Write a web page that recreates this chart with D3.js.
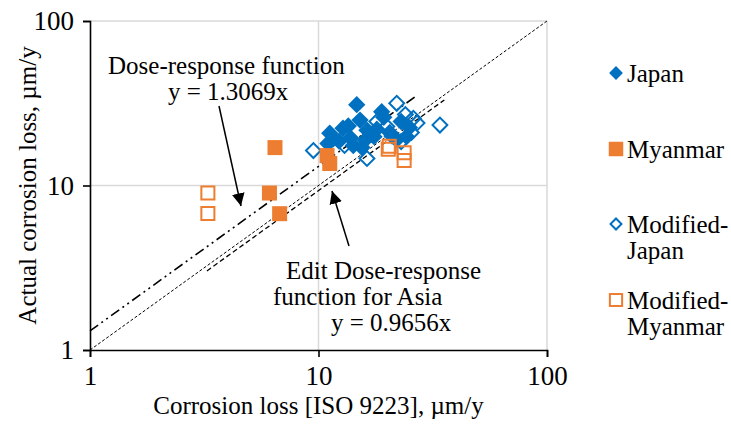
<!DOCTYPE html>
<html>
<head>
<meta charset="utf-8">
<script src="https://cdn.jsdelivr.net/npm/d3@7"></script>
<style>
  body { margin: 0; background: #fff; }
  svg text { font-family: "Liberation Serif", "Times New Roman", Times, "DejaVu Serif", serif !important; fill: #000; }
</style>
</head>
<body>
<div id="chart"></div>
<script>
// data (x = ISO 9223 loss, y = actual loss, um/y)
var japan = [
  [14.7, 31.0], [18.9, 28.1], [19.3, 26.0], [15.2, 25.0], [12.8, 22.3],
  [13.5, 23.0], [11.2, 20.8], [11.6, 19.2], [12.3, 18.6], [13.8, 19.5],
  [14.2, 17.5], [15.5, 17.0], [16.3, 21.7], [16.0, 18.9], [17.5, 19.8],
  [18.0, 22.0], [20.5, 21.0], [23.0, 24.5], [24.3, 19.8], [25.0, 22.5],
  [22.0, 19.0], [11.0, 18.0]
];
var myanmar = [
  [6.45, 17.0], [6.1, 9.0], [6.76, 6.74], [10.9, 15.2], [11.2, 13.6]
];
var modJapan = [
  [9.5, 16.3], [16.3, 14.6], [22.0, 31.6], [26.0, 25.6], [34.0, 23.3],
  [19.9, 22.8], [24.0, 27.0], [27.0, 24.0], [21.0, 20.0], [17.0, 20.5],
  [25.5, 21.0], [13.0, 17.5], [23.0, 18.5], [18.0, 24.5]
];
var modMyanmar = [
  [3.28, 9.0], [3.28, 6.75], [20.4, 17.3], [20.2, 16.6], [23.7, 15.8], [23.7, 14.2]
];
var tickValues = [1, 10, 100];
var doseSlope = 1.3069, asiaSlope = 0.9656;
var doseRange = [1, 27], asiaRange = [3.2, 35], oneRange = [1, 100];

var blue = "#0070C0", orange = "#ED7D31";
var serif = "'Liberation Serif', 'Times New Roman', Times, 'DejaVu Serif', serif";

var margin = { top: 21, right: 184, bottom: 75, left: 90 };
var width = 731 - margin.left - margin.right;
var height = 425 - margin.top - margin.bottom;

var svg = d3.select("#chart").append("svg")
    .attr("width", 731)
    .attr("height", 425)
    .attr("font-family", serif)

var g = svg.append("g")
    .attr("transform", "translate(" + margin.left + "," + margin.top + ")")

var x = d3.scaleLog().domain([1, 100]).range([0, width])
var y = d3.scaleLog().domain([1, 100]).range([height, 0])

// gridlines
g.selectAll(".gx").data([10, 100]).enter().append("line")
    .attr("x1", function (d) { return x(d) }).attr("x2", function (d) { return x(d) })
    .attr("y1", 0).attr("y2", height)
    .attr("stroke", "#d9d9d9").attr("stroke-width", 1.5)
g.selectAll(".gy").data([10, 100]).enter().append("line")
    .attr("y1", function (d) { return y(d) }).attr("y2", function (d) { return y(d) })
    .attr("x1", 0).attr("x2", width)
    .attr("stroke", "#d9d9d9").attr("stroke-width", 1.5)

// axes
var xAxis = g.append("g")
    .attr("transform", "translate(0," + height + ")")
    .call(d3.axisBottom(x).tickValues(tickValues).tickFormat(d3.format("d")).tickSizeOuter(0).tickSize(7).tickPadding(9))
var yAxis = g.append("g")
    .call(d3.axisLeft(y).tickValues(tickValues).tickFormat(d3.format("d")).tickSizeOuter(0).tickSize(7).tickPadding(9))

svg.selectAll(".domain, .tick line").attr("stroke", "#000").attr("stroke-width", 1.6)
svg.selectAll(".tick text").attr("font-size", "27px").attr("font-family", serif).attr("fill", "#000")
xAxis.attr("font-family", serif)
yAxis.attr("font-family", serif)

// reference lines
var line = d3.line()
    .x(function (d) { return x(d[0]) })
    .y(function (d) { return y(d[1]) })

g.append("path")
    .datum([[oneRange[0], oneRange[0]], [oneRange[1], oneRange[1]]])
    .attr("d", line).attr("fill", "none").attr("stroke", "#000")
    .attr("stroke-width", 1).attr("stroke-dasharray", "3,2")
g.append("path")
    .datum([[asiaRange[0], asiaRange[0] * asiaSlope], [asiaRange[1], asiaRange[1] * asiaSlope]])
    .attr("d", line).attr("fill", "none").attr("stroke", "#000")
    .attr("stroke-width", 1.3).attr("stroke-dasharray", "5,3")
    .attr("transform", "translate(1.5,1.5)")
g.append("path")
    .datum([[doseRange[0], doseRange[0] * doseSlope], [doseRange[1], doseRange[1] * doseSlope]])
    .attr("d", line).attr("fill", "none").attr("stroke", "#000")
    .attr("stroke-width", 1.6).attr("stroke-dasharray", "10,4,2,4,2,4")

// markers
var diamond = d3.symbol().type(d3.symbolSquare)
var square = d3.symbol().type(d3.symbolSquare)

g.selectAll(".japan").data(japan).enter().append("path")
    .attr("d", diamond.size(150)())
    .attr("transform", function (d) { return "translate(" + x(d[0]) + "," + y(d[1]) + ") rotate(45)" })
    .attr("fill", blue)
g.selectAll(".mjapan").data(modJapan).enter().append("path")
    .attr("d", diamond.size(110)())
    .attr("transform", function (d) { return "translate(" + x(d[0]) + "," + y(d[1]) + ") rotate(45)" })
    .attr("fill", "none").attr("stroke", blue).attr("stroke-width", 2)
g.selectAll(".myanmar").data(myanmar).enter().append("path")
    .attr("d", square.size(225)())
    .attr("transform", function (d) { return "translate(" + x(d[0]) + "," + y(d[1]) + ")" })
    .attr("fill", orange)
g.selectAll(".mmyanmar").data(modMyanmar).enter().append("path")
    .attr("d", square.size(170)())
    .attr("transform", function (d) { return "translate(" + x(d[0]) + "," + y(d[1]) + ")" })
    .attr("fill", "none").attr("stroke", orange).attr("stroke-width", 2)

// annotations
svg.append("defs").append("marker")
    .attr("id", "head").attr("viewBox", "0 0 10 10")
    .attr("refX", 10).attr("refY", 5)
    .attr("markerWidth", 8.5).attr("markerHeight", 8.5)
    .attr("markerUnits", "strokeWidth")
    .attr("orient", "auto")
    .append("path").attr("d", "M0,0 L10,5 L0,10 z").attr("fill", "#000")

function note(lines) {
    lines.forEach(function (l) {
        svg.append("text").attr("x", l[0]).attr("y", l[1])
            .attr("font-family", serif)
            .attr("font-size", "25px").text(l[2])
    })
}
note([[108, 74, "Dose-response function"], [168, 100, "y = 1.3069x"]])
note([[286, 279, "Edit Dose-response"], [273, 305, "function for Asia"], [331, 331, "y = 0.9656x"]])

svg.append("line").attr("x1", 219).attr("y1", 106).attr("x2", 241).attr("y2", 206)
    .attr("stroke", "#000").attr("stroke-width", 1.5).attr("marker-end", "url(#head)")
svg.append("line").attr("x1", 349).attr("y1", 246).attr("x2", 332).attr("y2", 191)
    .attr("stroke", "#000").attr("stroke-width", 1.5).attr("marker-end", "url(#head)")

// axis titles
svg.append("text")
    .attr("x", margin.left + width / 2).attr("y", 414)
    .attr("text-anchor", "middle").attr("font-size", "25px")
    .attr("font-family", serif)
    .text("Corrosion loss [ISO 9223], \u00b5m/y")
svg.append("text")
    .attr("transform", "translate(36," + (margin.top + height / 2) + ") rotate(-90)")
    .attr("text-anchor", "middle").attr("font-size", "25px")
    .attr("font-family", serif)
    .text("Actual corrosion loss, \u00b5m/y")

// legend
var legend = [
  { label: ["Japan"], y: 73, kind: "diamond", fill: true, color: blue },
  { label: ["Myanmar"], y: 149, kind: "square", fill: true, color: orange },
  { label: ["Modified-", "Japan"], y: 224, kind: "diamond", fill: false, color: blue },
  { label: ["Modified-", "Myanmar"], y: 300, kind: "square", fill: false, color: orange }
]
var lg = svg.append("g")
legend.forEach(function (d) {
    var size = d.kind == "diamond" ? (d.fill ? 95 : 60) : (d.fill ? 210 : 150)
    lg.append("path")
        .attr("d", d3.symbol().type(d3.symbolSquare).size(size)())
        .attr("transform", "translate(616," + d.y + ")" + (d.kind == "diamond" ? " rotate(45)" : ""))
        .attr("fill", d.fill ? d.color : "none")
        .attr("stroke", d.fill ? "none" : d.color)
        .attr("stroke-width", 2)
    d.label.forEach(function (t, i) {
        lg.append("text").attr("x", 627).attr("y", d.y + 9 + i * 26)
            .attr("font-family", serif)
            .attr("font-size", "25px").text(t)
    })
})
</script>
</body>
</html>
